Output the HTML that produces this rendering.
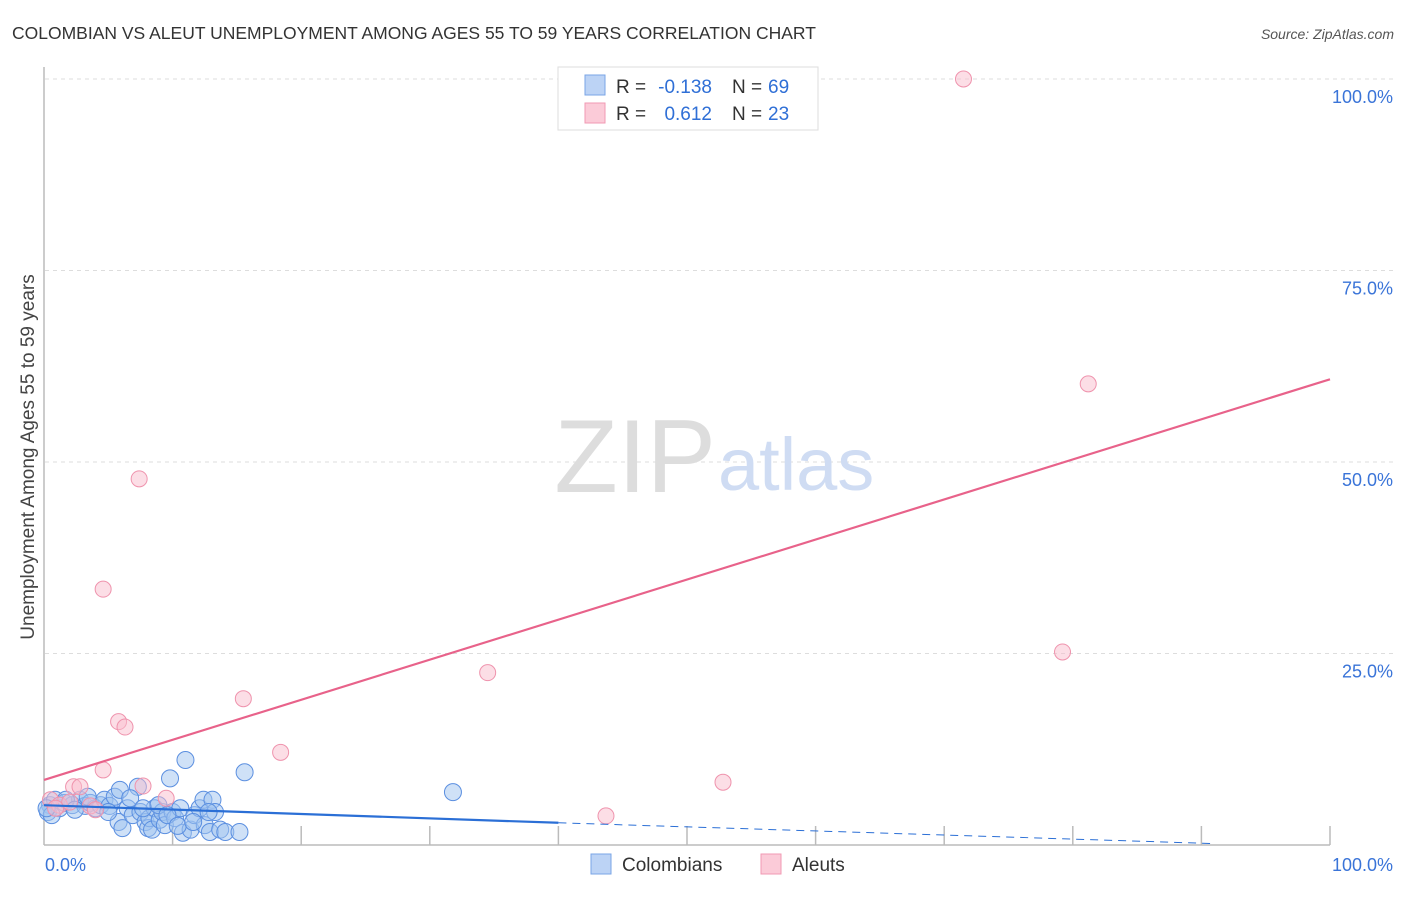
<!DOCTYPE html>
<html><head><meta charset="utf-8"><style>
body{margin:0;background:#fff;font-family:"Liberation Sans",sans-serif;}
svg text{font-family:"Liberation Sans",sans-serif;}
</style></head><body>
<svg id="chart" width="1406" height="892" xmlns="http://www.w3.org/2000/svg">
<text x="12" y="39" font-size="17.5" fill="#333">COLOMBIAN VS ALEUT UNEMPLOYMENT AMONG AGES 55 TO 59 YEARS CORRELATION CHART</text>
<text x="1394" y="39" font-size="14" fill="#555" font-style="italic" text-anchor="end">Source: ZipAtlas.com</text>
<text x="34" y="457" font-size="19" fill="#444" text-anchor="middle" transform="rotate(-90 34 457)">Unemployment Among Ages 55 to 59 years</text>
<g id="grid"></g>
<text x="716" y="492" font-size="104" fill="#ddd" text-anchor="end" font-family="Liberation Serif">ZIP</text>
<text x="718" y="490" font-size="74" fill="#cfdcf3">atlas</text>
<g id="marks"></g>
<g>
<rect x="558" y="67" width="260" height="63" fill="#fff" stroke="#ddd"/>
<rect x="585" y="75" width="20" height="20" fill="#bcd3f5" stroke="#7aa5e6"/>
<rect x="585" y="103" width="20" height="20" fill="#fbcbd8" stroke="#f09ab3"/>
<text x="616" y="93" font-size="19" fill="#333">R =</text>
<text x="712" y="93" font-size="19" fill="#2f6fd6" text-anchor="end">-0.138</text>
<text x="732" y="93" font-size="19" fill="#333">N =</text>
<text x="768" y="93" font-size="19" fill="#2f6fd6">69</text>
<text x="616" y="120" font-size="19" fill="#333">R =</text>
<text x="712" y="120" font-size="19" fill="#2f6fd6" text-anchor="end">0.612</text>
<text x="732" y="120" font-size="19" fill="#333">N =</text>
<text x="768" y="120" font-size="19" fill="#2f6fd6">23</text>
</g>
<g>
<rect x="591" y="854" width="20" height="20" fill="#bcd3f5" stroke="#7aa5e6"/>
<text x="622" y="871" font-size="19" fill="#333">Colombians</text>
<rect x="761" y="854" width="20" height="20" fill="#fbcbd8" stroke="#f09ab3"/>
<text x="792" y="871" font-size="19" fill="#333">Aleuts</text>
</g>
</svg>
<script>
const yTicks=[25,50,75,100];
const xTickLabels=["0.0%","100.0%"];
const blueX=[0.47,0.86,1.2,1.6,2.2,2.8,3.2,3.6,4.0,4.4,4.7,5.1,5.5,5.9,5.8,6.1,6.5,6.9,7.3,7.5,7.9,8.1,8.2,8.4,8.6,9.0,9.2,9.4,9.8,10.0,10.2,10.6,10.8,11.0,11.4,11.7,12.1,12.4,12.5,12.9,13.1,13.3,13.7,14.1,15.2,15.6,31.8,1.7,2.4,3.4,5.0,6.7,7.7,8.9,9.6,10.4,11.6,12.8,0.3,0.6,0.2];
const blueY=[5.2,5.9,4.8,5.5,5.2,5.9,5.1,5.5,4.8,5.2,5.9,5.1,6.3,7.2,3.0,2.2,4.8,3.9,7.6,4.3,3.0,2.2,3.5,2.0,4.8,3.3,4.3,2.6,8.7,4.3,3.5,4.8,1.6,11.1,2.0,3.9,4.8,5.9,2.6,1.7,5.9,4.3,2.0,1.7,1.7,9.5,6.9,5.9,4.6,6.3,4.3,6.1,4.8,5.2,3.9,2.5,3.0,4.3,4.3,3.9,4.8];
const pinkX=[71.5,81.2,7.4,4.6,15.5,34.5,79.2,5.8,6.3,18.4,4.6,2.3,2.8,7.7,9.5,52.8,43.7,0.5,1.2,3.6,4.0,2.0,0.9];
const pinkY=[100,60.2,47.8,33.4,19.1,22.5,25.2,16.1,15.4,12.1,9.8,7.6,7.6,7.7,6.1,8.2,3.8,5.9,5.2,5.1,4.6,5.6,4.8];
const blueTrend=[5.2,2.9,0.2];
const pinkTrend=[8.5,60.8];
const NS="http://www.w3.org/2000/svg";
const X=v=>44+v*12.86, Y=v=>845-v*7.66;
const grid=document.getElementById('grid'), marks=document.getElementById('marks');
function mk(p,tag,a){const e=document.createElementNS(NS,tag);for(const k in a)e.setAttribute(k,a[k]);p.appendChild(e);return e;}
let ax=mk(grid,'line',{x1:44,y1:67,x2:44,y2:845,stroke:'#bbb','stroke-width':1.5});


let bx=mk(grid,'line',{x1:44,y1:845,x2:1330,y2:845,stroke:'#bbb','stroke-width':1.5});


for(let i=1;i<=10;i++){let t=mk(grid,'line',{x1:X(i*10),y1:826,x2:X(i*10),y2:845,stroke:'#bbb','stroke-width':1.5});

}
yTicks.forEach(v=>{let g=mk(grid,'line',{x1:45,y1:Y(v),x2:1395,y2:Y(v),stroke:'#ddd','stroke-dasharray':'4,4'});


let t=mk(grid,'text',{x:1393,y:Y(v)+24,'font-size':18,fill:'#3a74d8','text-anchor':'end'});t.textContent=v.toFixed(1)+'%';

});
xTickLabels.forEach((s,i)=>{let t=mk(grid,'text',{x:i?1393:45,y:871,'font-size':18,fill:'#3a74d8','text-anchor':i?'end':'start'});t.textContent=s;

});
blueX.forEach((x,i)=>{let c=mk(marks,'circle',{cx:X(x),cy:Y(blueY[i]),r:8.5,fill:'rgba(160,195,240,0.5)',stroke:'#5b8fe0','stroke-width':1});

});
pinkX.forEach((x,i)=>{let c=mk(marks,'circle',{cx:X(x),cy:Y(pinkY[i]),r:8,fill:'rgba(250,190,205,0.5)',stroke:'#ef93ad','stroke-width':1});

});
let l1=mk(marks,'line',{x1:X(0),y1:Y(pinkTrend[0]),x2:X(100),y2:Y(pinkTrend[1]),stroke:'#e8628a','stroke-width':2.2});


let l2=mk(marks,'line',{x1:X(0),y1:Y(blueTrend[0]),x2:X(40),y2:Y(blueTrend[1]),stroke:'#2b6fd6','stroke-width':2.2});


let l3=mk(marks,'line',{x1:X(40),y1:Y(blueTrend[1]),x2:X(90.7),y2:Y(blueTrend[2]),stroke:'#2b6fd6','stroke-width':1,'stroke-dasharray':'8,6'});


</script>
</body></html>
